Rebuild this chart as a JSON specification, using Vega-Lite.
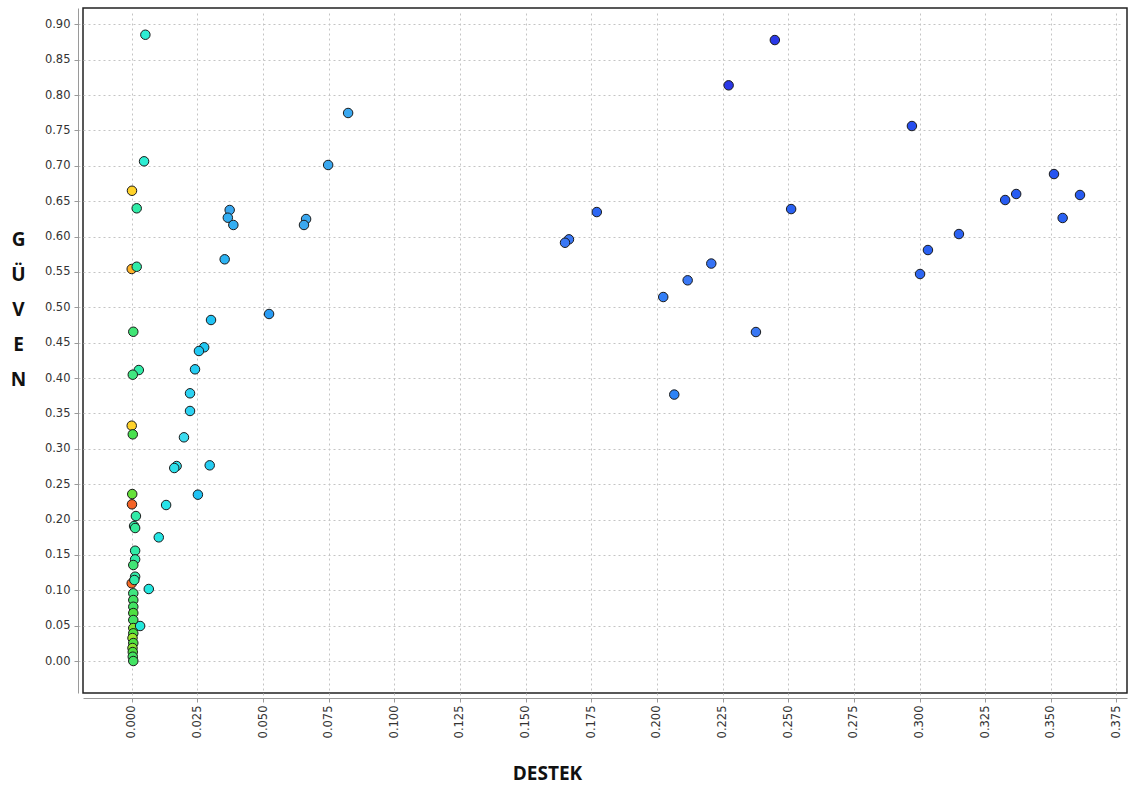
{
  "$schema": "https://vega.github.io/schema/vega-lite/v6.json",
  "width": 1044,
  "height": 685,
  "autosize": {"type": "none"},
  "padding": {"left": 83, "top": 8, "right": 4, "bottom": 96},
  "background": "white",
  "config": {
    "view": {"stroke": "#222222", "strokeWidth": 1.5},
    "axis": {
      "labelFont": "DejaVu Sans",
      "labelFontSize": 11.5,
      "labelColor": "#333333",
      "domainColor": "#9a9a9a",
      "tickColor": "#9a9a9a",
      "tickSize": 4,
      "gridColor": "#c4c4c4",
      "gridDash": [2, 3],
      "gridWidth": 1,
      "offset": 5,
      "titleFont": "Open Sans",
      "titleFontWeight": "bold",
      "titleFontSize": 19,
      "titleColor": "#111111"
    }
  },
  "data": {
    "values": [
      {"destek": 0.2449, "guven": 0.8777, "lift": 0.0},
      {"destek": 0.2273, "guven": 0.8137, "lift": 0.0},
      {"destek": 0.2971, "guven": 0.7562, "lift": 0.03},
      {"destek": 0.2511, "guven": 0.6388, "lift": 0.06},
      {"destek": 0.3512, "guven": 0.6883, "lift": 0.04},
      {"destek": 0.3368, "guven": 0.6601, "lift": 0.05},
      {"destek": 0.3326, "guven": 0.6516, "lift": 0.05},
      {"destek": 0.3611, "guven": 0.6587, "lift": 0.05},
      {"destek": 0.3545, "guven": 0.6262, "lift": 0.06},
      {"destek": 0.3150, "guven": 0.6035, "lift": 0.06},
      {"destek": 0.3032, "guven": 0.5809, "lift": 0.06},
      {"destek": 0.3002, "guven": 0.5470, "lift": 0.07},
      {"destek": 0.2377, "guven": 0.4650, "lift": 0.1},
      {"destek": 0.2207, "guven": 0.5618, "lift": 0.09},
      {"destek": 0.2117, "guven": 0.5381, "lift": 0.1},
      {"destek": 0.2024, "guven": 0.5145, "lift": 0.11},
      {"destek": 0.2066, "guven": 0.3766, "lift": 0.12},
      {"destek": 0.1771, "guven": 0.6346, "lift": 0.07},
      {"destek": 0.1665, "guven": 0.5960, "lift": 0.1},
      {"destek": 0.1650, "guven": 0.5912, "lift": 0.1},
      {"destek": 0.0824, "guven": 0.7746, "lift": 0.2},
      {"destek": 0.0748, "guven": 0.7011, "lift": 0.2},
      {"destek": 0.0664, "guven": 0.6247, "lift": 0.2},
      {"destek": 0.0656, "guven": 0.6163, "lift": 0.2},
      {"destek": 0.0373, "guven": 0.6375, "lift": 0.2},
      {"destek": 0.0366, "guven": 0.6266, "lift": 0.21},
      {"destek": 0.0387, "guven": 0.6163, "lift": 0.21},
      {"destek": 0.0354, "guven": 0.5678, "lift": 0.22},
      {"destek": 0.0523, "guven": 0.4905, "lift": 0.17},
      {"destek": 0.0302, "guven": 0.4820, "lift": 0.25},
      {"destek": 0.0276, "guven": 0.4434, "lift": 0.26},
      {"destek": 0.0256, "guven": 0.4382, "lift": 0.26},
      {"destek": 0.0241, "guven": 0.4123, "lift": 0.27},
      {"destek": 0.0222, "guven": 0.3784, "lift": 0.28},
      {"destek": 0.0222, "guven": 0.3534, "lift": 0.28},
      {"destek": 0.0199, "guven": 0.3162, "lift": 0.3},
      {"destek": 0.0297, "guven": 0.2766, "lift": 0.27},
      {"destek": 0.0171, "guven": 0.2756, "lift": 0.32},
      {"destek": 0.0162, "guven": 0.2728, "lift": 0.32},
      {"destek": 0.0252, "guven": 0.2351, "lift": 0.25},
      {"destek": 0.0131, "guven": 0.2205, "lift": 0.33},
      {"destek": 0.0103, "guven": 0.1748, "lift": 0.34},
      {"destek": 0.0065, "guven": 0.1018, "lift": 0.35},
      {"destek": 0.0052, "guven": 0.8852, "lift": 0.38},
      {"destek": 0.0047, "guven": 0.7063, "lift": 0.38},
      {"destek": 0.0001, "guven": 0.6647, "lift": 0.8},
      {"destek": 0.0019, "guven": 0.6399, "lift": 0.45},
      {"destek": 0.0000, "guven": 0.5541, "lift": 0.87},
      {"destek": 0.0019, "guven": 0.5573, "lift": 0.45},
      {"destek": 0.0006, "guven": 0.4654, "lift": 0.52},
      {"destek": 0.0027, "guven": 0.4113, "lift": 0.45},
      {"destek": 0.0004, "guven": 0.4047, "lift": 0.5},
      {"destek": 0.0000, "guven": 0.3326, "lift": 0.8},
      {"destek": 0.0004, "guven": 0.3204, "lift": 0.58},
      {"destek": 0.0002, "guven": 0.2360, "lift": 0.62},
      {"destek": 0.0001, "guven": 0.2215, "lift": 0.98},
      {"destek": 0.0016, "guven": 0.2049, "lift": 0.45},
      {"destek": 0.0009, "guven": 0.1908, "lift": 0.45},
      {"destek": 0.0013, "guven": 0.1880, "lift": 0.47},
      {"destek": 0.0013, "guven": 0.1559, "lift": 0.45},
      {"destek": 0.0013, "guven": 0.1437, "lift": 0.45},
      {"destek": 0.0006, "guven": 0.1357, "lift": 0.52},
      {"destek": 0.0000, "guven": 0.1098, "lift": 0.97},
      {"destek": 0.0013, "guven": 0.1192, "lift": 0.45},
      {"destek": 0.0010, "guven": 0.1145, "lift": 0.45},
      {"destek": 0.0006, "guven": 0.0957, "lift": 0.5},
      {"destek": 0.0006, "guven": 0.0862, "lift": 0.55},
      {"destek": 0.0006, "guven": 0.0767, "lift": 0.55},
      {"destek": 0.0006, "guven": 0.0678, "lift": 0.6},
      {"destek": 0.0006, "guven": 0.0580, "lift": 0.55},
      {"destek": 0.0006, "guven": 0.0466, "lift": 0.65},
      {"destek": 0.0032, "guven": 0.0495, "lift": 0.36},
      {"destek": 0.0006, "guven": 0.0392, "lift": 0.6},
      {"destek": 0.0003, "guven": 0.0325, "lift": 0.68},
      {"destek": 0.0006, "guven": 0.0254, "lift": 0.6},
      {"destek": 0.0003, "guven": 0.0184, "lift": 0.66},
      {"destek": 0.0004, "guven": 0.0127, "lift": 0.6},
      {"destek": 0.0004, "guven": 0.0061, "lift": 0.55},
      {"destek": 0.0006, "guven": 0.0000, "lift": 0.55}
    ]
  },
  "mark": {"type": "point", "shape": "circle", "filled": true, "size": 90, "stroke": "#1a1a1a", "strokeWidth": 1, "opacity": 1},
  "encoding": {
    "x": {
      "field": "destek",
      "type": "quantitative",
      "scale": {"domain": [-0.01855, 0.379], "nice": false, "zero": false},
      "axis": {
        "title": "DESTEK",
        "values": [0, 0.025, 0.05, 0.075, 0.1, 0.125, 0.15, 0.175, 0.2, 0.225, 0.25, 0.275, 0.3, 0.325, 0.35, 0.375],
        "format": ".3f",
        "labelAngle": 270,
        "labelPadding": 3,
        "titleX": 464,
        "titleY": 75,
        "titleAlign": "center",
        "titleBaseline": "middle"
      }
    },
    "y": {
      "field": "guven",
      "type": "quantitative",
      "scale": {"domain": [-0.0452, 0.923], "nice": false, "zero": false},
      "axis": {
        "title": ["G", "Ü", "V", "E", "N"],
        "values": [0, 0.05, 0.1, 0.15, 0.2, 0.25, 0.3, 0.35, 0.4, 0.45, 0.5, 0.55, 0.6, 0.65, 0.7, 0.75, 0.8, 0.85, 0.9],
        "format": ".2f",
        "labelPadding": 4,
        "titleAngle": 0,
        "titleX": -60,
        "titleY": 222,
        "titleAlign": "center",
        "titleBaseline": "top",
        "titleLineHeight": 35
      }
    },
    "color": {
      "field": "lift",
      "type": "quantitative",
      "legend": null,
      "scale": {
        "domain": [0, 0.1, 0.2, 0.3, 0.4, 0.5, 0.6, 0.7, 0.8, 0.9, 1.0],
        "range": ["#2a38e8", "#3a78f5", "#3aa8f0", "#3cdcf0", "#3cf0c8", "#40e680", "#4ee040", "#a8e82a", "#ffd22a", "#ffa62a", "#f0502a"]
      }
    }
  }
}
